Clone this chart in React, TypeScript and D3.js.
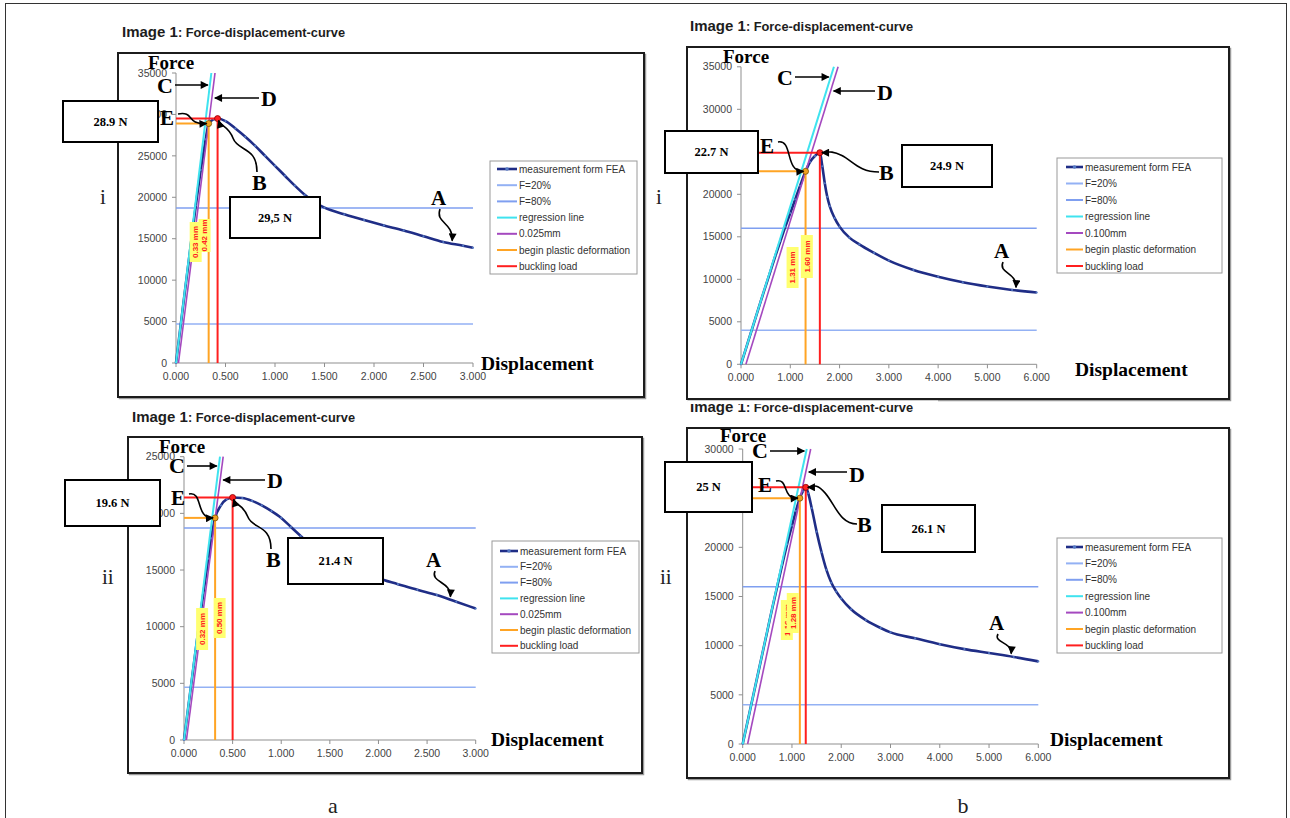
import React from "react";
import * as d3 from "d3";

const SERIF = "'Liberation Serif', 'Times New Roman', serif";
const SANS = "'Liberation Sans', Arial, sans-serif";

// ---------- shared labels / ticks ----------
const legendA = ["measurement form FEA", "F=20%", "F=80%", "regression line", "0.025mm", "begin plastic deformation", "buckling load"];
const legendB = ["measurement form FEA", "F=20%", "F=80%", "regression line", "0.100mm", "begin plastic deformation", "buckling load"];
const seriesColors = ["#1f2d86", "#93b1f4", "#7f9ff0", "#3fe3ef", "#a449bf", "#ffa424", "#ff1f1f"];

const xTicks3 = [0, 0.5, 1, 1.5, 2, 2.5, 3];
const xTicks6 = [0, 1, 2, 3, 4, 5, 6];
const yTicks35 = [0, 5000, 10000, 15000, 20000, 25000, 30000, 35000];
const yTicks25 = [0, 5000, 10000, 15000, 20000, 25000];
const yTicks30 = [0, 5000, 10000, 15000, 20000, 25000, 30000];

// ---------- panel a-i ----------
const dispAI = [0, 0.05, 0.1, 0.15, 0.2, 0.25, 0.3, 0.33, 0.38, 0.42, 0.5, 0.6, 0.7, 0.8, 0.9, 1.0, 1.1, 1.2, 1.3, 1.4, 1.5, 1.7, 1.9, 2.1, 2.3, 2.5, 2.7, 2.9, 3.0];
const forceAI = [0, 4800, 9600, 14300, 19000, 23300, 27000, 28900, 29400, 29500, 29200, 28300, 27300, 26200, 25000, 23800, 22600, 21400, 20300, 19400, 18750, 17950, 17250, 16600, 16000, 15300, 14600, 14150, 13900];
const regAI = [0, 0.357];
const offAI = [0.025, 0.394];
const fLinesAI = [4700, 18700];
const plasticAI = [0.33, 28900];
const bucklingAI = [0.42, 29500];
const mmAI = ["0.33 mm", "0.42 mm"];
const boxTextAI = ["28.9 N", "29,5 N"];

// ---------- panel b-i ----------
const dispBI = [0, 0.1, 0.2, 0.3, 0.4, 0.5, 0.6, 0.7, 0.8, 0.9, 1.0, 1.1, 1.2, 1.31, 1.4, 1.5, 1.6, 1.65, 1.7, 1.75, 1.8, 1.9, 2.0, 2.2, 2.4, 2.7, 3.0, 3.5, 4.0, 4.5, 5.0, 5.5, 6.0];
const forceBI = [0, 1850, 3700, 5550, 7400, 9200, 11000, 12800, 14500, 16200, 17800, 19400, 21000, 22700, 23800, 24500, 24900, 23300, 21300, 19700, 18600, 17200, 16200, 14900, 14100, 13100, 12200, 11100, 10300, 9650, 9150, 8750, 8450];
const regBI = [0, 1.886];
const offBI = [0.1, 1.97];
const fLinesBI = [4000, 16000];
const plasticBI = [1.31, 22700];
const bucklingBI = [1.6, 24900];
const mmBI = ["1.31 mm", "1.60 mm"];
const boxTextBI = ["22.7 N", "24.9 N"];

// ---------- panel a-ii ----------
const dispAII = [0, 0.05, 0.1, 0.15, 0.2, 0.25, 0.28, 0.32, 0.38, 0.44, 0.5, 0.6, 0.7, 0.8, 0.9, 1.0, 1.1, 1.2, 1.3, 1.4, 1.5, 1.6, 1.8, 2.0, 2.2, 2.4, 2.6, 2.8, 3.0];
const forceAII = [0, 3300, 6600, 9900, 13000, 16000, 17800, 19600, 20700, 21250, 21400, 21350, 21100, 20700, 20200, 19600, 18800, 18000, 17200, 16500, 15900, 15400, 14800, 14250, 13750, 13250, 12800, 12200, 11600];
const regAII = [0, 0.37];
const offAII = [0.025, 0.403];
const fLinesAII = [4650, 18700];
const plasticAII = [0.32, 19600];
const bucklingAII = [0.5, 21400];
const mmAII = ["0.32 mm", "0.50 mm"];
const boxTextAII = ["19.6 N", "21.4 N"];

// ---------- panel b-ii ----------
const dispBII = [0, 0.1, 0.2, 0.3, 0.4, 0.5, 0.6, 0.7, 0.8, 0.9, 1.0, 1.08, 1.16, 1.22, 1.28, 1.33, 1.4, 1.5, 1.6, 1.7, 1.8, 1.9, 2.0, 2.2, 2.5, 2.8, 3.0, 3.5, 4.0, 4.5, 5.0, 5.5, 6.0];
const forceBII = [0, 2300, 4600, 6900, 9200, 11500, 13800, 16000, 18200, 20300, 22200, 23700, 25000, 25700, 26100, 25500, 24000, 21600, 19500, 17700, 16400, 15500, 14800, 13700, 12600, 11800, 11350, 10750, 10150, 9650, 9250, 8850, 8400];
const regBII = [0, 1.3];
const offBII = [0.1, 1.38];
const fLinesBII = [4000, 16000];
const plasticBII = [1.16, 25000];
const bucklingBII = [1.28, 26100];
const mmBII = ["1.16 mm", "1.28 mm"];
const boxTextBII = ["25 N", "26.1 N"];

type Cfg = any;

const panels: Cfg[] = [
  {
    key: "ai", frame: [118, 53, 526, 344], title: [122, 37],
    xMax: 3, yMax: 35000, xRange: [176, 473], yRange: [363, 73], xTicks: xTicks3, yTicks: yTicks35,
    disp: dispAI, force: forceAI, reg: regAI, off: offAI, fLines: fLinesAI, plastic: plasticAI, buckling: bucklingAI,
    mm: mmAI, yellow: [[222, 262], [219, 252]], boxText: boxTextAI, boxes: [[63, 101, 95, 41], [230, 197, 90, 41]],
    legendLabels: legendA, legend: { x: 490, y: 161, w: 147, h: 113, r0: 169, step: 16.2, s0: 497, s1: 517, tx: 519 },
    forceLbl: [148, 69], dispLbl: [481, 370], roman: ["i", 100, 204],
    C: [157, 93, 85], D: [261, 106, 98], E: [160, 125], B: [252, 190], bStyle: "top", A: [431, 205, 2.79],
  },
  {
    key: "bi", frame: [687, 47, 542, 352], title: [690, 31],
    xMax: 6, yMax: 35000, xRange: [741, 1036.7], yRange: [364.3, 66.8], xTicks: xTicks6, yTicks: yTicks35,
    disp: dispBI, force: forceBI, reg: regBI, off: offBI, fLines: fLinesBI, plastic: plasticBI, buckling: bucklingBI,
    mm: mmBI, yellow: [[247, 288], [235, 278]], boxText: boxTextBI, boxes: [[665, 131, 93, 42], [902, 145, 90, 42]],
    legendLabels: legendB, legend: { x: 1057, y: 158, w: 165, h: 115, r0: 167, step: 16.5, s0: 1066, s1: 1083, tx: 1085 },
    forceLbl: [723, 63], dispLbl: [1075, 376], roman: ["i", 656, 204],
    C: [777, 85, 77], D: [877, 100, 91], E: [760, 153], B: [879, 180], bStyle: "side", A: [994, 258, 5.58],
  },
  {
    key: "aii", frame: [128, 437, 514, 336], title: [132, 422],
    xMax: 3, yMax: 25000, xRange: [184, 475.7], yRange: [740, 456.7], xTicks: xTicks3, yTicks: yTicks25,
    disp: dispAII, force: forceAII, reg: regAII, off: offAII, fLines: fLinesAII, plastic: plasticAII, buckling: bucklingAII,
    mm: mmAII, yellow: [[608, 650], [598, 638]], boxText: boxTextAII, boxes: [[65, 480, 95, 46], [288, 538, 95, 46]],
    legendLabels: legendA, legend: { x: 492, y: 541, w: 147, h: 112, r0: 551, step: 15.8, s0: 500, s1: 518, tx: 520 },
    forceLbl: [159, 453], dispLbl: [491, 746], roman: ["ii", 102, 584],
    C: [169, 473, 466], D: [267, 488, 480], E: [171, 505], B: [266, 567], bStyle: "top", A: [426, 567, 2.74],
  },
  {
    key: "bii", frame: [687, 428, 542, 350], title: [690, 412],
    xMax: 6, yMax: 30000, xRange: [742.7, 1038.3], yRange: [744, 449], xTicks: xTicks6, yTicks: yTicks30,
    disp: dispBII, force: forceBII, reg: regBII, off: offBII, fLines: fLinesBII, plastic: plasticBII, buckling: bucklingBII,
    mm: mmBII, yellow: [[600, 640], [593, 633]], boxText: boxTextBII, boxes: [[665, 462, 87, 50], [882, 505, 93, 47]],
    legendLabels: legendB, legend: { x: 1057, y: 538, w: 165, h: 115, r0: 547, step: 16.4, s0: 1066, s1: 1083, tx: 1085 },
    forceLbl: [720, 442], dispLbl: [1050, 746], roman: ["ii", 660, 584],
    C: [752, 458, 451], D: [849, 482, 472], E: [758, 492], B: [857, 532], bStyle: "side", A: [989, 630, 5.45],
  },
];

function Panel({ c }: { c: Cfg }) {
  const xs = d3.scaleLinear().domain([0, c.xMax]).range(c.xRange);
  const ys = d3.scaleLinear().domain([0, c.yMax]).range(c.yRange);
  const interp = d3.scaleLinear().domain(c.disp).range(c.force);
  const idx = d3.range(c.disp.length);
  const line = d3.line<number>().x((i) => xs(c.disp[i])).y((i) => ys(c.force[i])).curve(d3.curveMonotoneX);
  const [fx, fy, fw, fh] = c.frame;
  const x0 = xs(0), y0 = ys(0);
  const xEnd = xs(c.xMax);
  const fmtX = d3.format(".3f");

  const regX = (py: number) => xs(c.reg[0] + (c.reg[1] - c.reg[0]) * ys.invert(py) / c.yMax);
  const offX = (py: number) => xs(c.off[0] + (c.off[1] - c.off[0]) * ys.invert(py) / c.yMax);

  const px = xs(c.plastic[0]), py = ys(c.plastic[1]);
  const bx = xs(c.buckling[0]), by = ys(c.buckling[1]);

  const eS = [c.E[0] + 18, c.E[1] - 11];
  const eT = [px - 2, py];
  const edx = eT[0] - eS[0];
  const ePath = `M${eS[0]},${eS[1]} C${eS[0] + edx * 0.6},${eS[1] - 3} ${eS[0] + edx * 0.25},${eT[1] + 1} ${eT[0]},${eT[1]}`;

  let bPath = "";
  if (c.bStyle === "top") {
    const S = [c.B[0] + 5, c.B[1] - 18];
    const T = [bx + 1, by + 2];
    const dx = S[0] - T[0], dy = S[1] - T[1];
    bPath = `M${S[0]},${S[1]} C${S[0]},${S[1] - 0.5 * dy} ${S[0] - 0.5 * dx},${T[1] + 0.6 * dy} ${S[0] - 0.62 * dx},${T[1] + 0.35 * dy} S${T[0] + 2},${T[1] + 6} ${T[0]},${T[1]}`;
  } else {
    const S = [c.B[0], c.B[1] - 8];
    const T = [bx + 2, by];
    const dx = S[0] - T[0], dy = S[1] - T[1];
    bPath = `M${S[0]},${S[1]} C${S[0] - 0.35 * dx},${S[1]} ${S[0] - 0.45 * dx},${T[1] + 0.45 * dy} ${S[0] - 0.65 * dx},${T[1] + 0.15 * dy} S${T[0] + 0.1 * dx},${T[1]} ${T[0]},${T[1]}`;
  }

  const aS = [c.A[0] + 9, c.A[1] + 4];
  const aT = [xs(c.A[2]), ys(interp(c.A[2])) - 3];
  const ady = aT[1] - aS[1];
  const aPath = `M${aS[0]},${aS[1]} C${aS[0] - 5},${aS[1] + ady * 0.45} ${aT[0] + 1},${aS[1] + ady * 0.4} ${aT[0]},${aT[1]}`;

  const lg = c.legend;

  return (
    <g>
      <text x={c.title[0]} y={c.title[1]} fontFamily={SANS} fontWeight="bold" fill="#1d1d1d">
        <tspan fontSize={15}>Image 1</tspan>
        <tspan fontSize={12.8}>: Force-displacement-curve</tspan>
      </text>
      <rect x={fx + 1.5} y={fy + 1.5} width={fw} height={fh} fill="none" stroke="#9a9a9a" strokeWidth={1.5} />
      <rect x={fx} y={fy} width={fw} height={fh} fill="#fff" stroke="#1c1c1c" strokeWidth={2} />

      <line x1={x0} x2={x0} y1={y0} y2={ys(c.yMax)} stroke="#8f8f8f" strokeWidth={1} />
      <line x1={x0} x2={xEnd} y1={y0} y2={y0} stroke="#8f8f8f" strokeWidth={1} />
      {c.yTicks.map((t: number) => (
        <g key={"y" + t}>
          <line x1={x0 - 4} x2={x0} y1={ys(t)} y2={ys(t)} stroke="#8f8f8f" />
          <text x={x0 - 9} y={ys(t)} dy="0.35em" textAnchor="end" fontFamily={SANS} fontSize={10.5} fill="#444">{t}</text>
        </g>
      ))}
      {c.xTicks.map((t: number) => (
        <g key={"x" + t}>
          <line x1={xs(t)} x2={xs(t)} y1={y0} y2={y0 + 4} stroke="#8f8f8f" />
          <text x={xs(t)} y={y0 + 17} textAnchor="middle" fontFamily={SANS} fontSize={10.5} fill="#444">{fmtX(t)}</text>
        </g>
      ))}

      {c.fLines.map((f: number, i: number) => (
        <line key={"f" + i} x1={x0} x2={xEnd} y1={ys(f)} y2={ys(f)} stroke={seriesColors[1 + i]} strokeWidth={1.5} />
      ))}

      <path d={line(idx) || ""} fill="none" stroke={seriesColors[0]} strokeWidth={2.6} />
      {idx.map((i) => (
        <circle key={"m" + i} cx={xs(c.disp[i])} cy={ys(c.force[i])} r={1.1} fill="#5479c4" />
      ))}

      <line x1={xs(c.reg[0])} y1={y0} x2={xs(c.reg[1])} y2={ys(c.yMax)} stroke={seriesColors[3]} strokeWidth={2} />
      <line x1={xs(c.off[0])} y1={y0} x2={xs(c.off[1])} y2={ys(c.yMax)} stroke={seriesColors[4]} strokeWidth={1.6} />

      <line x1={x0} x2={px} y1={py} y2={py} stroke={seriesColors[5]} strokeWidth={2} />
      <line x1={px} x2={px} y1={y0} y2={py} stroke={seriesColors[5]} strokeWidth={2} />
      <line x1={x0} x2={bx} y1={by} y2={by} stroke={seriesColors[6]} strokeWidth={2} />
      <line x1={bx} x2={bx} y1={y0} y2={by} stroke={seriesColors[6]} strokeWidth={2} />
      <circle cx={px} cy={py} r={3} fill="#f0a020" stroke="#7a5000" strokeWidth={0.8} />
      <circle cx={bx} cy={by} r={3} fill="#ff2020" stroke="#8a0000" strokeWidth={0.8} />

      {[px, bx].map((lx, i) => {
        const [ya, yb] = c.yellow[i];
        const rx = lx - 19;
        const cx = rx + 6;
        const cy = (ya + yb) / 2;
        return (
          <g key={"yl" + i}>
            <rect x={rx} y={ya} width={12} height={yb - ya} fill="#ffff70" />
            <text x={cx} y={cy} transform={`rotate(-90 ${cx} ${cy})`} textAnchor="middle" dy="0.35em"
              fontFamily={SANS} fontSize={8} fontWeight="bold" fill="#ff2020">{c.mm[i]}</text>
          </g>
        );
      })}

      <rect x={lg.x} y={lg.y} width={lg.w} height={lg.h} fill="#fff" stroke="#9a9a9a" strokeWidth={1} />
      {c.legendLabels.map((l: string, i: number) => {
        const ry = lg.r0 + i * lg.step;
        return (
          <g key={"lg" + i}>
            <line x1={lg.s0} x2={lg.s1} y1={ry} y2={ry} stroke={seriesColors[i]} strokeWidth={i === 0 ? 2.6 : 2} />
            {i === 0 && <circle cx={(lg.s0 + lg.s1) / 2} cy={ry} r={1.8} fill="#5479c4" />}
            <text x={lg.tx} y={ry} dy="0.35em" fontFamily={SANS} fontSize={10} fill="#333">{l}</text>
          </g>
        );
      })}

      <line x1={c.C[0] + 18} y1={c.C[2]} x2={regX(c.C[2]) - 2} y2={c.C[2]} stroke="#000" strokeWidth={1.6} markerEnd="url(#ah)" />
      <line x1={c.D[0] - 2} y1={c.D[2]} x2={offX(c.D[2]) + 3} y2={c.D[2]} stroke="#000" strokeWidth={1.6} markerEnd="url(#ah)" />
      <path d={ePath} fill="none" stroke="#000" strokeWidth={1.6} markerEnd="url(#ah)" />
      <path d={bPath} fill="none" stroke="#000" strokeWidth={1.6} markerEnd="url(#ah)" />
      <path d={aPath} fill="none" stroke="#000" strokeWidth={1.6} markerEnd="url(#ah)" />

      {c.boxes.map((b: number[], i: number) => (
        <g key={"bx" + i}>
          <rect x={b[0]} y={b[1]} width={b[2]} height={b[3]} fill="#fff" stroke="#000" strokeWidth={2} />
          <text x={b[0] + b[2] / 2} y={b[1] + b[3] / 2} dy="0.35em" textAnchor="middle" fontFamily={SERIF} fontWeight="bold" fontSize={12.5} fill="#000">{c.boxText[i]}</text>
        </g>
      ))}

      <text x={c.forceLbl[0]} y={c.forceLbl[1]} fontFamily={SERIF} fontWeight="bold" fontSize={19} fill="#000">Force</text>
      <text x={c.dispLbl[0]} y={c.dispLbl[1]} fontFamily={SERIF} fontWeight="bold" fontSize={19.5} fill="#000">Displacement</text>
      <text x={c.C[0]} y={c.C[1]} fontFamily={SERIF} fontWeight="bold" fontSize={22} fill="#000">C</text>
      <text x={c.D[0]} y={c.D[1]} fontFamily={SERIF} fontWeight="bold" fontSize={22} fill="#000">D</text>
      <text x={c.E[0]} y={c.E[1]} fontFamily={SERIF} fontWeight="bold" fontSize={21} fill="#000">E</text>
      <text x={c.B[0]} y={c.B[1]} fontFamily={SERIF} fontWeight="bold" fontSize={22} fill="#000">B</text>
      <text x={c.A[0]} y={c.A[1]} fontFamily={SERIF} fontWeight="bold" fontSize={21} fill="#000">A</text>
      <text x={c.roman[1]} y={c.roman[2]} fontFamily={SERIF} fontSize={21} fill="#222">{c.roman[0]}</text>
    </g>
  );
}

export default function App() {
  return (
    <svg width={1290} height={818} style={{ position: "absolute", left: 0, top: 0, background: "#fff" }}>
      <defs>
        <marker id="ah" viewBox="0 0 10 10" refX="9" refY="5" markerWidth="9" markerHeight="8" markerUnits="userSpaceOnUse" orient="auto">
          <path d="M0,0 L10,5 L0,10 z" fill="#000" />
        </marker>
      </defs>
      <rect x={0} y={0} width={1290} height={818} fill="#fff" />
      <rect x={5.5} y={3.5} width={1281} height={840} fill="none" stroke="#333" strokeWidth={1} />
      {panels.map((p) => <Panel key={p.key} c={p} />)}
      <rect x={688} y={400.5} width={250} height={3.5} fill="#fff" />
      <text x={333} y={813} textAnchor="middle" fontFamily={SERIF} fontSize={22} fill="#222">a</text>
      <text x={963} y={813} textAnchor="middle" fontFamily={SERIF} fontSize={22} fill="#222">b</text>
    </svg>
  );
}
